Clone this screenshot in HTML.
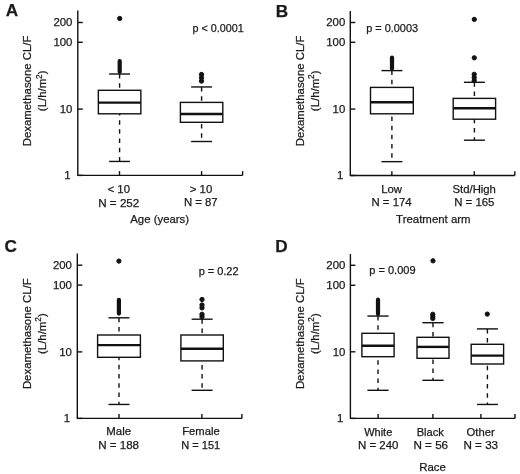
<!DOCTYPE html>
<html><head><meta charset="utf-8"><style>
html,body{margin:0;padding:0;background:#fff;}
body{width:520px;height:474px;overflow:hidden;}
svg{display:block;filter:grayscale(1);}
text{font-family:"Liberation Sans",sans-serif;fill:#1a1a1a;stroke:#1a1a1a;stroke-width:0.25px;}
</style></head><body>
<svg width="520" height="474" viewBox="0 0 520 474">
<rect width="520" height="474" fill="#fff"/>
<g stroke="#111" fill="#111" stroke-linecap="butt">
<line x1="77.80" y1="10.60" x2="77.80" y2="175.40" stroke-width="1.4" />
<line x1="77.30" y1="175.40" x2="242.60" y2="175.40" stroke-width="1.4" />
<line x1="77.80" y1="22.50" x2="82.80" y2="22.50" stroke-width="1.4" />
<line x1="77.80" y1="42.30" x2="82.80" y2="42.30" stroke-width="1.4" />
<line x1="77.80" y1="109.10" x2="82.80" y2="109.10" stroke-width="1.4" />
<line x1="77.80" y1="175.40" x2="82.80" y2="175.40" stroke-width="1.4" />
<line x1="119.50" y1="175.40" x2="119.50" y2="171.10" stroke-width="1.4" />
<line x1="201.60" y1="175.40" x2="201.60" y2="171.10" stroke-width="1.4" />
<line x1="242.60" y1="175.40" x2="242.60" y2="171.10" stroke-width="1.4" />
<line x1="119.60" y1="74.00" x2="119.60" y2="90.30" stroke-width="1.4" stroke-dasharray="4.5 4.7" stroke-dashoffset="0"/>
<line x1="119.60" y1="161.45" x2="119.60" y2="113.80" stroke-width="1.4" stroke-dasharray="4.5 4.7" stroke-dashoffset="0"/>
<line x1="109.10" y1="74.00" x2="130.10" y2="74.00" stroke-width="1.4" />
<line x1="109.10" y1="161.45" x2="130.10" y2="161.45" stroke-width="1.4" />
<rect x="98.35" y="90.30" width="42.50" height="23.50" fill="#fff" stroke-width="1.4"/>
<line x1="98.35" y1="102.60" x2="140.85" y2="102.60" stroke-width="2.4" />
<circle cx="119.70" cy="18.50" r="2.15"/>
<rect x="117.60" y="59.00" width="4.2" height="15.00" rx="2.1" ry="2.1" stroke="none"/>
<line x1="201.60" y1="86.95" x2="201.60" y2="102.40" stroke-width="1.4" stroke-dasharray="4.5 4.7" stroke-dashoffset="0"/>
<line x1="201.60" y1="141.50" x2="201.60" y2="122.30" stroke-width="1.4" stroke-dasharray="4.5 4.7" stroke-dashoffset="5.4"/>
<line x1="191.10" y1="86.95" x2="212.10" y2="86.95" stroke-width="1.4" />
<line x1="191.10" y1="141.50" x2="212.10" y2="141.50" stroke-width="1.4" />
<rect x="180.40" y="102.40" width="42.40" height="19.90" fill="#fff" stroke-width="1.4"/>
<line x1="180.40" y1="114.00" x2="222.80" y2="114.00" stroke-width="2.4" />
<circle cx="201.50" cy="74.50" r="2.15"/>
<circle cx="201.50" cy="77.80" r="2.15"/>
<circle cx="201.50" cy="81.10" r="2.15"/>
<line x1="350.30" y1="10.90" x2="350.30" y2="175.50" stroke-width="1.4" />
<line x1="349.80" y1="175.50" x2="514.80" y2="175.50" stroke-width="1.4" />
<line x1="350.30" y1="22.50" x2="355.30" y2="22.50" stroke-width="1.4" />
<line x1="350.30" y1="42.30" x2="355.30" y2="42.30" stroke-width="1.4" />
<line x1="350.30" y1="109.10" x2="355.30" y2="109.10" stroke-width="1.4" />
<line x1="350.30" y1="175.50" x2="355.30" y2="175.50" stroke-width="1.4" />
<line x1="391.85" y1="175.50" x2="391.85" y2="171.20" stroke-width="1.4" />
<line x1="474.30" y1="175.50" x2="474.30" y2="171.20" stroke-width="1.4" />
<line x1="514.80" y1="175.50" x2="514.80" y2="171.20" stroke-width="1.4" />
<line x1="391.90" y1="70.60" x2="391.90" y2="87.40" stroke-width="1.4" stroke-dasharray="4.5 4.7" stroke-dashoffset="0"/>
<line x1="391.90" y1="161.65" x2="391.90" y2="113.80" stroke-width="1.4" stroke-dasharray="4.5 4.7" stroke-dashoffset="5.3"/>
<line x1="381.40" y1="70.60" x2="402.40" y2="70.60" stroke-width="1.4" />
<line x1="381.40" y1="161.65" x2="402.40" y2="161.65" stroke-width="1.4" />
<rect x="370.50" y="87.40" width="42.80" height="26.40" fill="#fff" stroke-width="1.4"/>
<line x1="370.50" y1="102.20" x2="413.30" y2="102.20" stroke-width="2.4" />
<rect x="389.90" y="55.40" width="4.2" height="15.20" rx="2.1" ry="2.1" stroke="none"/>
<line x1="474.40" y1="82.30" x2="474.40" y2="98.40" stroke-width="1.4" stroke-dasharray="4.5 4.7" stroke-dashoffset="0"/>
<line x1="474.40" y1="140.20" x2="474.40" y2="119.20" stroke-width="1.4" stroke-dasharray="4.5 4.7" stroke-dashoffset="1.5"/>
<line x1="463.90" y1="82.30" x2="484.90" y2="82.30" stroke-width="1.4" />
<line x1="463.90" y1="140.20" x2="484.90" y2="140.20" stroke-width="1.4" />
<rect x="453.20" y="98.40" width="42.40" height="20.80" fill="#fff" stroke-width="1.4"/>
<line x1="453.20" y1="108.20" x2="495.60" y2="108.20" stroke-width="2.4" />
<circle cx="474.30" cy="19.40" r="2.15"/>
<circle cx="474.30" cy="57.80" r="2.15"/>
<circle cx="474.20" cy="74.30" r="2.15"/>
<circle cx="474.20" cy="77.50" r="2.15"/>
<circle cx="474.20" cy="80.50" r="2.15"/>
<line x1="77.30" y1="253.60" x2="77.30" y2="418.40" stroke-width="1.4" />
<line x1="76.80" y1="418.40" x2="241.90" y2="418.40" stroke-width="1.4" />
<line x1="77.30" y1="265.20" x2="82.30" y2="265.20" stroke-width="1.4" />
<line x1="77.30" y1="285.10" x2="82.30" y2="285.10" stroke-width="1.4" />
<line x1="77.30" y1="351.90" x2="82.30" y2="351.90" stroke-width="1.4" />
<line x1="77.30" y1="418.40" x2="82.30" y2="418.40" stroke-width="1.4" />
<line x1="119.00" y1="418.40" x2="119.00" y2="414.10" stroke-width="1.4" />
<line x1="201.90" y1="418.40" x2="201.90" y2="414.10" stroke-width="1.4" />
<line x1="241.90" y1="418.40" x2="241.90" y2="414.10" stroke-width="1.4" />
<line x1="119.00" y1="317.80" x2="119.00" y2="335.00" stroke-width="1.4" stroke-dasharray="4.5 4.7" stroke-dashoffset="0"/>
<line x1="119.00" y1="404.45" x2="119.00" y2="357.30" stroke-width="1.4" stroke-dasharray="4.5 4.7" stroke-dashoffset="1.7"/>
<line x1="108.50" y1="317.80" x2="129.50" y2="317.80" stroke-width="1.4" />
<line x1="108.50" y1="404.45" x2="129.50" y2="404.45" stroke-width="1.4" />
<rect x="97.60" y="335.00" width="42.80" height="22.30" fill="#fff" stroke-width="1.4"/>
<line x1="97.60" y1="345.10" x2="140.40" y2="345.10" stroke-width="2.4" />
<circle cx="118.90" cy="261.10" r="2.15"/>
<rect x="116.80" y="297.70" width="4.2" height="18.00" rx="2.1" ry="2.1" stroke="none"/>
<line x1="202.10" y1="319.20" x2="202.10" y2="335.00" stroke-width="1.4" stroke-dasharray="4.5 4.7" stroke-dashoffset="0"/>
<line x1="202.10" y1="390.30" x2="202.10" y2="360.90" stroke-width="1.4" stroke-dasharray="4.5 4.7" stroke-dashoffset="6.7"/>
<line x1="191.60" y1="319.20" x2="212.60" y2="319.20" stroke-width="1.4" />
<line x1="191.60" y1="390.30" x2="212.60" y2="390.30" stroke-width="1.4" />
<rect x="180.90" y="335.00" width="42.40" height="25.90" fill="#fff" stroke-width="1.4"/>
<line x1="180.90" y1="348.70" x2="223.30" y2="348.70" stroke-width="2.4" />
<circle cx="202.00" cy="299.50" r="2.15"/>
<circle cx="202.00" cy="305.00" r="2.15"/>
<circle cx="202.00" cy="307.90" r="2.15"/>
<circle cx="202.00" cy="314.30" r="2.15"/>
<circle cx="202.00" cy="316.80" r="2.15"/>
<line x1="350.40" y1="254.00" x2="350.40" y2="418.40" stroke-width="1.4" />
<line x1="349.90" y1="418.40" x2="515.00" y2="418.40" stroke-width="1.4" />
<line x1="350.40" y1="265.30" x2="355.40" y2="265.30" stroke-width="1.4" />
<line x1="350.40" y1="285.30" x2="355.40" y2="285.30" stroke-width="1.4" />
<line x1="350.40" y1="351.80" x2="355.40" y2="351.80" stroke-width="1.4" />
<line x1="350.40" y1="418.40" x2="355.40" y2="418.40" stroke-width="1.4" />
<line x1="378.10" y1="418.40" x2="378.10" y2="414.10" stroke-width="1.4" />
<line x1="432.90" y1="418.40" x2="432.90" y2="414.10" stroke-width="1.4" />
<line x1="480.90" y1="418.40" x2="480.90" y2="414.10" stroke-width="1.4" />
<line x1="515.00" y1="418.40" x2="515.00" y2="414.10" stroke-width="1.4" />
<line x1="378.00" y1="316.05" x2="378.00" y2="333.30" stroke-width="1.4" stroke-dasharray="4.5 4.7" stroke-dashoffset="0"/>
<line x1="378.00" y1="390.30" x2="378.00" y2="356.70" stroke-width="1.4" stroke-dasharray="4.5 4.7" stroke-dashoffset="2.0"/>
<line x1="367.40" y1="316.05" x2="388.60" y2="316.05" stroke-width="1.4" />
<line x1="367.40" y1="390.30" x2="388.60" y2="390.30" stroke-width="1.4" />
<rect x="361.90" y="333.30" width="32.20" height="23.40" fill="#fff" stroke-width="1.4"/>
<line x1="361.90" y1="345.80" x2="394.10" y2="345.80" stroke-width="2.4" />
<rect x="375.90" y="297.60" width="4.2" height="18.40" rx="2.1" ry="2.1" stroke="none"/>
<line x1="433.00" y1="322.70" x2="433.00" y2="337.30" stroke-width="1.4" stroke-dasharray="4.5 4.7" stroke-dashoffset="0"/>
<line x1="433.00" y1="380.30" x2="433.00" y2="358.30" stroke-width="1.4" stroke-dasharray="4.5 4.7" stroke-dashoffset="2.0"/>
<line x1="422.40" y1="322.70" x2="443.60" y2="322.70" stroke-width="1.4" />
<line x1="422.40" y1="380.30" x2="443.60" y2="380.30" stroke-width="1.4" />
<rect x="417.00" y="337.30" width="32.00" height="21.00" fill="#fff" stroke-width="1.4"/>
<line x1="417.00" y1="346.90" x2="449.00" y2="346.90" stroke-width="2.4" />
<circle cx="433.00" cy="260.80" r="2.15"/>
<circle cx="432.80" cy="314.30" r="2.15"/>
<circle cx="432.80" cy="316.40" r="2.15"/>
<circle cx="432.80" cy="318.50" r="2.15"/>
<line x1="487.40" y1="328.90" x2="487.40" y2="344.30" stroke-width="1.4" stroke-dasharray="4.5 4.7" stroke-dashoffset="0"/>
<line x1="487.40" y1="404.45" x2="487.40" y2="364.00" stroke-width="1.4" stroke-dasharray="4.5 4.7" stroke-dashoffset="2.5"/>
<line x1="476.90" y1="328.90" x2="497.90" y2="328.90" stroke-width="1.4" />
<line x1="476.90" y1="404.45" x2="497.90" y2="404.45" stroke-width="1.4" />
<rect x="471.20" y="344.30" width="32.40" height="19.70" fill="#fff" stroke-width="1.4"/>
<line x1="471.20" y1="355.60" x2="503.60" y2="355.60" stroke-width="2.4" />
<circle cx="487.30" cy="314.10" r="2.15"/>
<text x="5.70" y="16.20" font-size="17.2" font-weight="bold">A</text>
<text x="275.70" y="16.50" font-size="17.2" font-weight="bold">B</text>
<text x="4.52" y="252.00" font-size="17.2" font-weight="bold">C</text>
<text x="275.28" y="252.40" font-size="17.2" font-weight="bold">D</text>
<text x="53.42" y="26.25" font-size="11.4" >200</text>
<text x="53.42" y="46.05" font-size="11.4" >100</text>
<text x="59.77" y="112.85" font-size="11.4" >10</text>
<text x="64.22" y="179.05" font-size="11.4" >1</text>
<text x="326.22" y="26.25" font-size="11.4" >200</text>
<text x="326.22" y="46.05" font-size="11.4" >100</text>
<text x="332.57" y="112.85" font-size="11.4" >10</text>
<text x="337.02" y="179.05" font-size="11.4" >1</text>
<text x="52.92" y="268.95" font-size="11.4" >200</text>
<text x="52.92" y="288.85" font-size="11.4" >100</text>
<text x="59.27" y="355.65" font-size="11.4" >10</text>
<text x="63.72" y="421.85" font-size="11.4" >1</text>
<text x="326.32" y="269.05" font-size="11.4" >200</text>
<text x="326.32" y="289.05" font-size="11.4" >100</text>
<text x="332.67" y="355.55" font-size="11.4" >10</text>
<text x="337.12" y="421.85" font-size="11.4" >1</text>
<text x="-55.68" y="0" font-size="11.4" transform="translate(31.30,90.65) rotate(-90)">Dexamethasone CL/F</text>
<text x="-20.36" y="0" font-size="11.4" transform="translate(46.40,90.80) rotate(-90)">(L/h/m<tspan font-size="8.3" dy="-4.8">2</tspan><tspan dy="4.8">)</tspan></text>
<text x="-55.68" y="0" font-size="11.4" transform="translate(303.80,90.65) rotate(-90)">Dexamethasone CL/F</text>
<text x="-20.36" y="0" font-size="11.4" transform="translate(318.90,90.80) rotate(-90)">(L/h/m<tspan font-size="8.3" dy="-4.8">2</tspan><tspan dy="4.8">)</tspan></text>
<text x="-55.68" y="0" font-size="11.4" transform="translate(31.10,333.45) rotate(-90)">Dexamethasone CL/F</text>
<text x="-20.36" y="0" font-size="11.4" transform="translate(46.20,333.60) rotate(-90)">(L/h/m<tspan font-size="8.3" dy="-4.8">2</tspan><tspan dy="4.8">)</tspan></text>
<text x="-55.68" y="0" font-size="11.4" transform="translate(303.80,333.45) rotate(-90)">Dexamethasone CL/F</text>
<text x="-20.36" y="0" font-size="11.4" transform="translate(318.90,333.60) rotate(-90)">(L/h/m<tspan font-size="8.3" dy="-4.8">2</tspan><tspan dy="4.8">)</tspan></text>
<text x="192.51" y="31.50" font-size="10.8" textLength="51.12" lengthAdjust="spacingAndGlyphs">p &lt; 0.0001</text>
<text x="366.20" y="31.50" font-size="10.8" textLength="51.88" lengthAdjust="spacingAndGlyphs">p = 0.0003</text>
<text x="198.69" y="274.50" font-size="10.8" textLength="39.86" lengthAdjust="spacingAndGlyphs">p = 0.22</text>
<text x="369.29" y="273.90" font-size="10.8" textLength="46.23" lengthAdjust="spacingAndGlyphs">p = 0.009</text>
<text x="107.64" y="192.60" font-size="11.4" textLength="22.30" lengthAdjust="spacingAndGlyphs">&lt; 10</text>
<text x="98.25" y="206.50" font-size="11.4" textLength="41.04" lengthAdjust="spacingAndGlyphs">N = 252</text>
<text x="189.74" y="192.50" font-size="11.4" textLength="22.51" lengthAdjust="spacingAndGlyphs">&gt; 10</text>
<text x="183.97" y="206.40" font-size="11.4" textLength="33.70" lengthAdjust="spacingAndGlyphs">N = 87</text>
<text x="130.28" y="222.70" font-size="11.4" textLength="58.83" lengthAdjust="spacingAndGlyphs">Age (years)</text>
<text x="381.17" y="192.70" font-size="11.4" textLength="20.80" lengthAdjust="spacingAndGlyphs">Low</text>
<text x="371.47" y="206.40" font-size="11.4" textLength="40.17" lengthAdjust="spacingAndGlyphs">N = 174</text>
<text x="452.49" y="192.60" font-size="11.4" textLength="43.45" lengthAdjust="spacingAndGlyphs">Std/High</text>
<text x="454.16" y="206.40" font-size="11.4" textLength="40.32" lengthAdjust="spacingAndGlyphs">N = 165</text>
<text x="396.14" y="222.90" font-size="11.4" textLength="74.50" lengthAdjust="spacingAndGlyphs">Treatment arm</text>
<text x="106.26" y="435.30" font-size="11.4" textLength="24.85" lengthAdjust="spacingAndGlyphs">Male</text>
<text x="98.25" y="449.00" font-size="11.4" textLength="40.80" lengthAdjust="spacingAndGlyphs">N = 188</text>
<text x="182.18" y="435.40" font-size="11.4" textLength="37.52" lengthAdjust="spacingAndGlyphs">Female</text>
<text x="181.19" y="449.00" font-size="11.4" textLength="39.05" lengthAdjust="spacingAndGlyphs">N = 151</text>
<text x="364.15" y="435.50" font-size="11.4" textLength="28.14" lengthAdjust="spacingAndGlyphs">White</text>
<text x="357.96" y="449.00" font-size="11.4" textLength="40.49" lengthAdjust="spacingAndGlyphs">N = 240</text>
<text x="416.69" y="435.50" font-size="11.4" textLength="27.20" lengthAdjust="spacingAndGlyphs">Black</text>
<text x="413.44" y="449.00" font-size="11.4" textLength="34.67" lengthAdjust="spacingAndGlyphs">N = 56</text>
<text x="466.57" y="435.50" font-size="11.4" textLength="28.12" lengthAdjust="spacingAndGlyphs">Other</text>
<text x="463.44" y="449.00" font-size="11.4" textLength="34.67" lengthAdjust="spacingAndGlyphs">N = 33</text>
<text x="419.16" y="470.80" font-size="11.4" textLength="26.75" lengthAdjust="spacingAndGlyphs">Race</text>
</g>
</svg>
</body></html>
